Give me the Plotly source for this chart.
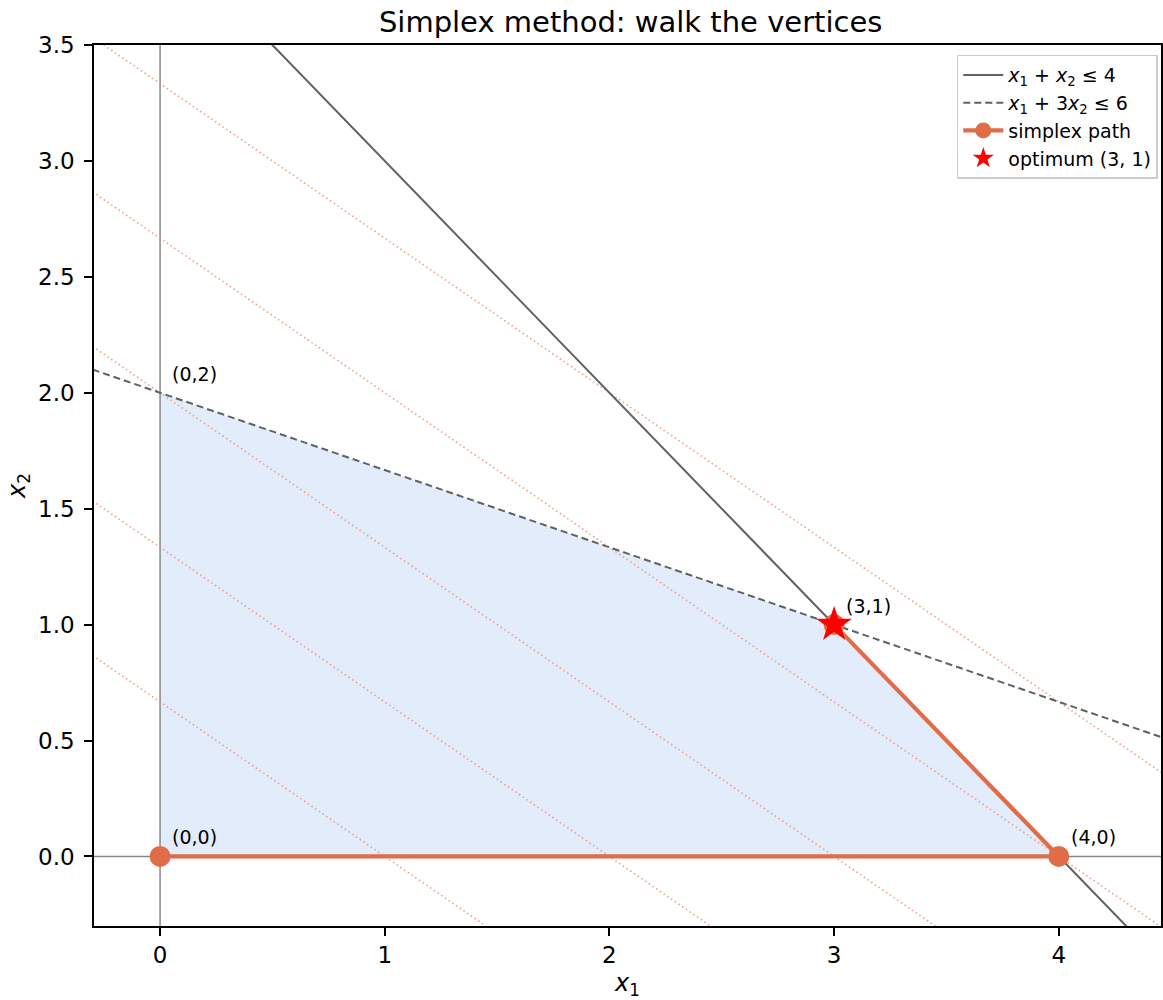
import numpy as np
import plotly.graph_objects as go

# data
feasible_x = [0, 4, 3, 0]
feasible_y = [0, 0, 1, 2]
path_x = [0, 4, 3]
path_y = [0, 0, 1]
optimum = (3, 1)
vertex_labels = ["(0,0)", "(4,0)", "(3,1)", "(0,2)"]
vertex_x = [0, 4, 3, 0]
vertex_y = [0, 0, 1, 2]
objective = (2, 3)          # maximize 2 x1 + 3 x2
levels = [2, 4, 6, 8, 10]
c1 = (1, 1, 4)              # x1 + x2 <= 4
c2 = (1, 3, 6)              # x1 + 3 x2 <= 6
xs = np.array([-0.3, 4.6])

ORANGE = "#e06c4a"
fig = go.Figure()

fig.add_trace(go.Scatter(x=feasible_x + [feasible_x[0]], y=feasible_y + [feasible_y[0]],
                         fill="toself", fillcolor="#e3ecfa", line=dict(width=0),
                         mode="lines", showlegend=False, hoverinfo="skip"))

# axes lines
fig.add_trace(go.Scatter(x=[-0.3, 4.6], y=[0, 0], mode="lines",
                         line=dict(color="#888888", width=1.5), showlegend=False))
fig.add_trace(go.Scatter(x=[0, 0], y=[-0.3, 3.6], mode="lines",
                         line=dict(color="#888888", width=1.5), showlegend=False))

for c in levels:
    fig.add_trace(go.Scatter(x=xs, y=(c - objective[0] * xs) / objective[1], mode="lines",
                             line=dict(color="rgba(238,140,110,0.85)", width=1.6, dash="1.5px,3px"),
                             showlegend=False, hoverinfo="skip"))

fig.add_trace(go.Scatter(x=xs, y=(c1[2] - c1[0] * xs) / c1[1], mode="lines",
                         line=dict(color="#616161", width=2),
                         name="<i>x</i><sub>1</sub> + <i>x</i><sub>2</sub> ≤ 4"))
fig.add_trace(go.Scatter(x=xs, y=(c2[2] - c2[0] * xs) / c2[1], mode="lines",
                         line=dict(color="#616161", width=2, dash="7px,4px"),
                         name="<i>x</i><sub>1</sub> + 3<i>x</i><sub>2</sub> ≤ 6"))

fig.add_trace(go.Scatter(x=path_x, y=path_y, mode="lines+markers",
                         line=dict(color=ORANGE, width=4.2),
                         marker=dict(color=ORANGE, size=21),
                         name="simplex path"))
fig.add_trace(go.Scatter(x=[optimum[0]], y=[optimum[1]], mode="markers",
                         marker=dict(color="red", size=27, symbol="star", line=dict(width=0)),
                         name="optimum (3, 1)"))

for lab, vx, vy in zip(vertex_labels, vertex_x, vertex_y):
    fig.add_annotation(x=vx, y=vy, text=lab, showarrow=False, xanchor="left", yanchor="bottom",
                       xshift=10, yshift=6, font=dict(size=19, color="black"))

axis_common = dict(showgrid=False, zeroline=False, showline=True, linecolor="black", linewidth=1.6,
                   mirror=True, ticks="outside", ticklen=8, tickwidth=1.6, tickcolor="black",
                   tickfont=dict(size=23, color="black"))

fig.update_layout(
    width=1163, height=1000,
    plot_bgcolor="white", paper_bgcolor="white",
    margin=dict(l=94, r=0, t=45, b=74),
    font=dict(family="DejaVu Sans", color="black"),
    title=dict(text="Simplex method: walk the vertices", x=0.503, xref="paper", xanchor="center",
               y=0.978, yanchor="middle", font=dict(size=29)),
    xaxis=dict(range=[-0.294, 4.455], tickvals=[0, 1, 2, 3, 4], ticktext=["0", "1", "2", "3", "4"],
               title=dict(text="<i>x</i><sub>1</sub>", font=dict(size=24), standoff=12), **axis_common),
    yaxis=dict(range=[-0.3, 3.5], tickvals=[0, 0.5, 1, 1.5, 2, 2.5, 3, 3.5],
               ticktext=["0.0", "0.5", "1.0", "1.5", "2.0", "2.5", "3.0", "3.5"],
               ticklabelstandoff=5,
               title=dict(text="<i>x</i><sub>2</sub>", font=dict(size=24), standoff=6), **axis_common),
    legend=dict(x=0.997, y=0.989, xanchor="right", yanchor="top", bgcolor="rgba(255,255,255,0.9)",
                bordercolor="#cccccc", borderwidth=1.5, font=dict(size=19), tracegroupgap=2,
                itemwidth=40),
)

fig.write_html("out.html")
